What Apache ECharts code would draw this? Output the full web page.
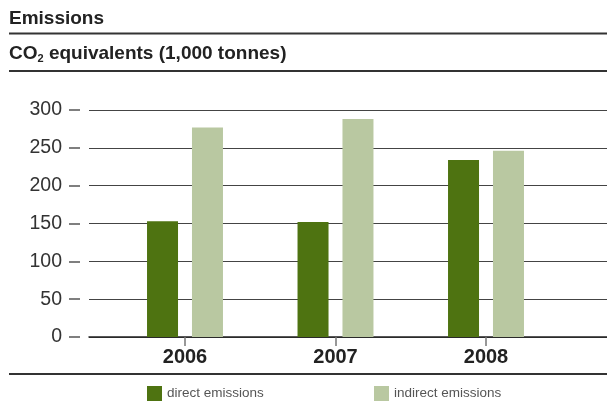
<!DOCTYPE html>
<html><head><meta charset="utf-8">
<script src="https://cdn.jsdelivr.net/npm/echarts@6/dist/echarts.min.js"></script>
<style>html,body{margin:0;padding:0;background:#fff}#c{width:607px;height:409px}</style>
</head><body><div id="c"></div>
<script>
var categories = ['2006', '2007', '2008'];
var directEmissions = [153, 152, 234];
var indirectEmissions = [277, 288, 246];
var yTicks = { min: 0, max: 300, interval: 50 };
var seriesNames = ['direct emissions', 'indirect emissions'];

var chart = echarts.init(document.getElementById('c'));
var FONT = 'Liberation Sans, Arial, Helvetica, sans-serif';
chart.setOption({
  animation: false,
  backgroundColor: '#fff',
  textStyle: { fontFamily: FONT },
  title: [
    { text: 'Emissions', left: 9, top: 9, padding: 0, textStyle: { fontSize: 19, fontWeight: 'bold', color: '#222', fontFamily: FONT } },
    { text: 'CO{sub|2} equivalents (1,000 tonnes)', left: 9, top: 43, padding: 0,
      textStyle: { fontSize: 19, fontWeight: 'bold', color: '#222', fontFamily: FONT,
        rich: { sub: { fontSize: 11, fontWeight: 'bold', color: '#222', fontFamily: FONT, padding: [10, 0, 0, 0] } } } }
  ],
  graphic: [
    { type: 'line', shape: { x1: 9, y1: 33.5, x2: 607, y2: 33.5 }, style: { stroke: '#333', lineWidth: 2 } },
    { type: 'line', shape: { x1: 9, y1: 71, x2: 607, y2: 71 }, style: { stroke: '#333', lineWidth: 2 } },
    { type: 'line', shape: { x1: 9, y1: 374, x2: 607, y2: 374 }, style: { stroke: '#333', lineWidth: 2 } }
  ],
  legend: [
    { data: [seriesNames[0]], left: 147, top: 386, padding: 0, itemWidth: 15, itemHeight: 15, icon: 'rect',
      textStyle: { fontSize: 13.5, color: '#555', fontFamily: FONT } },
    { data: [seriesNames[1]], left: 374, top: 386, padding: 0, itemWidth: 15, itemHeight: 15, icon: 'rect',
      textStyle: { fontSize: 13.5, color: '#555', fontFamily: FONT } }
  ],
  grid: [
    { left: 89, right: 0, top: 110, bottom: 72 },
    { left: 109.75, right: 45.75, top: 110, bottom: 72 },
    { left: 80, width: 1, top: 110, bottom: 72 }
  ],
  xAxis: [
    { gridIndex: 0, type: 'value', min: 0, max: 1, axisLine: { show: true, onZero: false, lineStyle: { color: '#222', width: 1.5 } },
      axisTick: { show: false }, axisLabel: { show: false }, splitLine: { show: false } },
    { gridIndex: 1, type: 'category', data: categories,
      axisLine: { show: false }, axisTick: { show: true, alignWithLabel: true, length: 9, lineStyle: { color: '#777', width: 1.5 } },
      axisLabel: { fontSize: 20, fontWeight: 'bold', color: '#222', margin: 10, fontFamily: FONT } },
    { gridIndex: 2, type: 'value', min: 0, max: 1, show: false }
  ],
  yAxis: [
    { gridIndex: 0, type: 'value', min: yTicks.min, max: yTicks.max, interval: yTicks.interval,
      axisLine: { show: false }, axisTick: { show: false }, axisLabel: { show: false },
      splitLine: { show: true, lineStyle: { color: '#444', width: 1.2 } } },
    { gridIndex: 1, type: 'value', min: yTicks.min, max: yTicks.max, interval: yTicks.interval, show: false, splitLine: { show: false } },
    { gridIndex: 2, type: 'value', min: yTicks.min, max: yTicks.max, interval: yTicks.interval,
      axisLine: { show: false }, axisTick: { show: true, length: 11, lineStyle: { color: '#555', width: 1.5 } },
      axisLabel: { fontSize: 19.5, color: '#333', margin: 18, fontFamily: FONT },
      splitLine: { show: false } }
  ],
  series: [
    { name: seriesNames[0], type: 'bar', xAxisIndex: 1, yAxisIndex: 1, data: directEmissions, barWidth: 31, barGap: '45%', itemStyle: { color: '#4e7311' } },
    { name: seriesNames[1], type: 'bar', xAxisIndex: 1, yAxisIndex: 1, data: indirectEmissions, barWidth: 31, barGap: '45%', itemStyle: { color: '#b9c8a1' } }
  ]
});
</script></body></html>
